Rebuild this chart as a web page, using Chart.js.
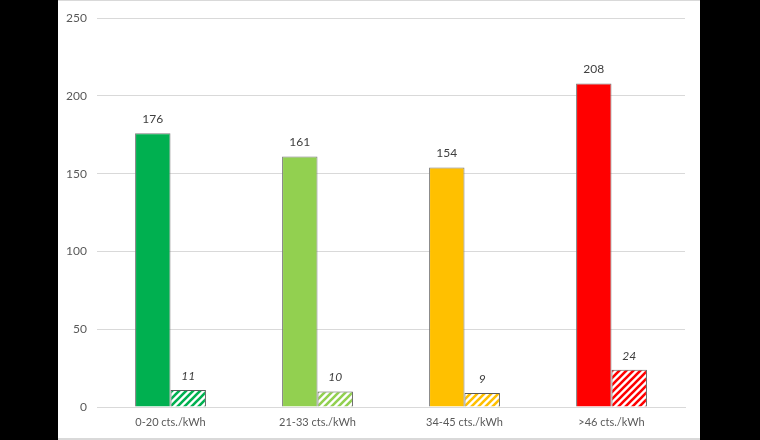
<!DOCTYPE html>
<html lang="de">
<head>
<meta charset="UTF-8" />
<title>Tarifklassen</title>
<script src="https://cdn.jsdelivr.net/npm/chart.js"></script>
<style>
html, body {
  margin: 0;
  background: #000;
  width: 760px;
  height: 440px;
  overflow: hidden;
}
.marco {
  position: absolute;
  left: 58px;
  top: 0;
  width: 642px;
  height: 437px;
  background: #fff;
  border-top: 1px solid #d9d9d9;
  border-bottom: 2px solid #d9d9d9;
  box-sizing: content-box;
}
</style>
</head>
<body>
<div class="marco">
  <canvas id="grafico" width="642" height="437"></canvas>
</div>
<script>
const categorias = ['0-20 cts./kWh', '21-33 cts./kWh', '34-45 cts./kWh', '>46 cts./kWh'];
const valoresPrincipal = [176, 161, 154, 208];
const valoresRayado = [11, 10, 9, 24];
const colores = ['#00B050', '#92D050', '#FFC000', '#FF0000'];
const ticksY = [0, 50, 100, 150, 200, 250];

// patrón de rayas diagonales sobre blanco
function rayado(color) {
  const c = document.createElement('canvas');
  c.width = 7; c.height = 7;
  const g = c.getContext('2d');
  g.fillStyle = '#fff';
  g.fillRect(0, 0, 7, 7);
  g.strokeStyle = color;
  g.lineWidth = 2.6;
  g.beginPath();
  for (let k = -7; k <= 14; k += 7) {
    g.moveTo(k - 1, 8);
    g.lineTo(k + 8, -1);
  }
  g.stroke();
  return g.createPattern(c, 'repeat');
}

const etiquetas = {
  id: 'etiquetas',
  afterDatasetsDraw(chart) {
    const { ctx } = chart;
    ctx.save();
    ctx.textAlign = 'center';
    ctx.textBaseline = 'bottom';
    ctx.fillStyle = '#404040';
    chart.data.datasets.forEach((ds, i) => {
      const meta = chart.getDatasetMeta(i);
      ctx.font = (i === 1 ? 'italic ' : '') + '12px Lato, "Open Sans", sans-serif';
      meta.data.forEach((bar, j) => {
        ctx.fillText(ds.data[j], bar.x, bar.y - 8);
      });
    });
    ctx.restore();
  }
};

new Chart(document.getElementById('grafico'), {
  type: 'bar',
  data: {
    labels: categorias,
    datasets: [
      {
        data: valoresPrincipal,
        backgroundColor: colores,
        borderColor: '#7a7a7a',
        borderWidth: 1,
        borderSkipped: 'bottom'
      },
      {
        data: valoresRayado,
        backgroundColor: colores.map(rayado),
        borderColor: '#5a5a5a',
        borderWidth: 1,
        borderSkipped: 'bottom'
      }
    ]
  },
  options: {
    responsive: false,
    animation: false,
    categoryPercentage: 0.482,
    barPercentage: 1,
    layout: { padding: { top: 8, right: 15, left: 0, bottom: 0 } },
    plugins: {
      legend: { display: false },
      tooltip: { enabled: false }
    },
    scales: {
      x: {
        grid: { display: false, drawTicks: false },
        border: { color: '#d9d9d9', width: 1 },
        ticks: {
          color: '#595959',
          padding: 9,
          font: { family: 'Lato, "Open Sans", sans-serif', size: 11 }
        },
        afterFit: (s) => { s.height = 31; }
      },
      y: {
        min: 0,
        max: 250,
        afterBuildTicks: (s) => { s.ticks = ticksY.map(v => ({ value: v })); },
        grid: { color: '#d9d9d9', drawTicks: false },
        border: { display: false },
        ticks: {
          color: '#595959',
          padding: 10,
          font: { family: 'Lato, "Open Sans", sans-serif', size: 12 }
        },
        afterFit: (s) => { s.width = 39; }
      }
    }
  },
  plugins: [etiquetas]
});
</script>
</body>
</html>
